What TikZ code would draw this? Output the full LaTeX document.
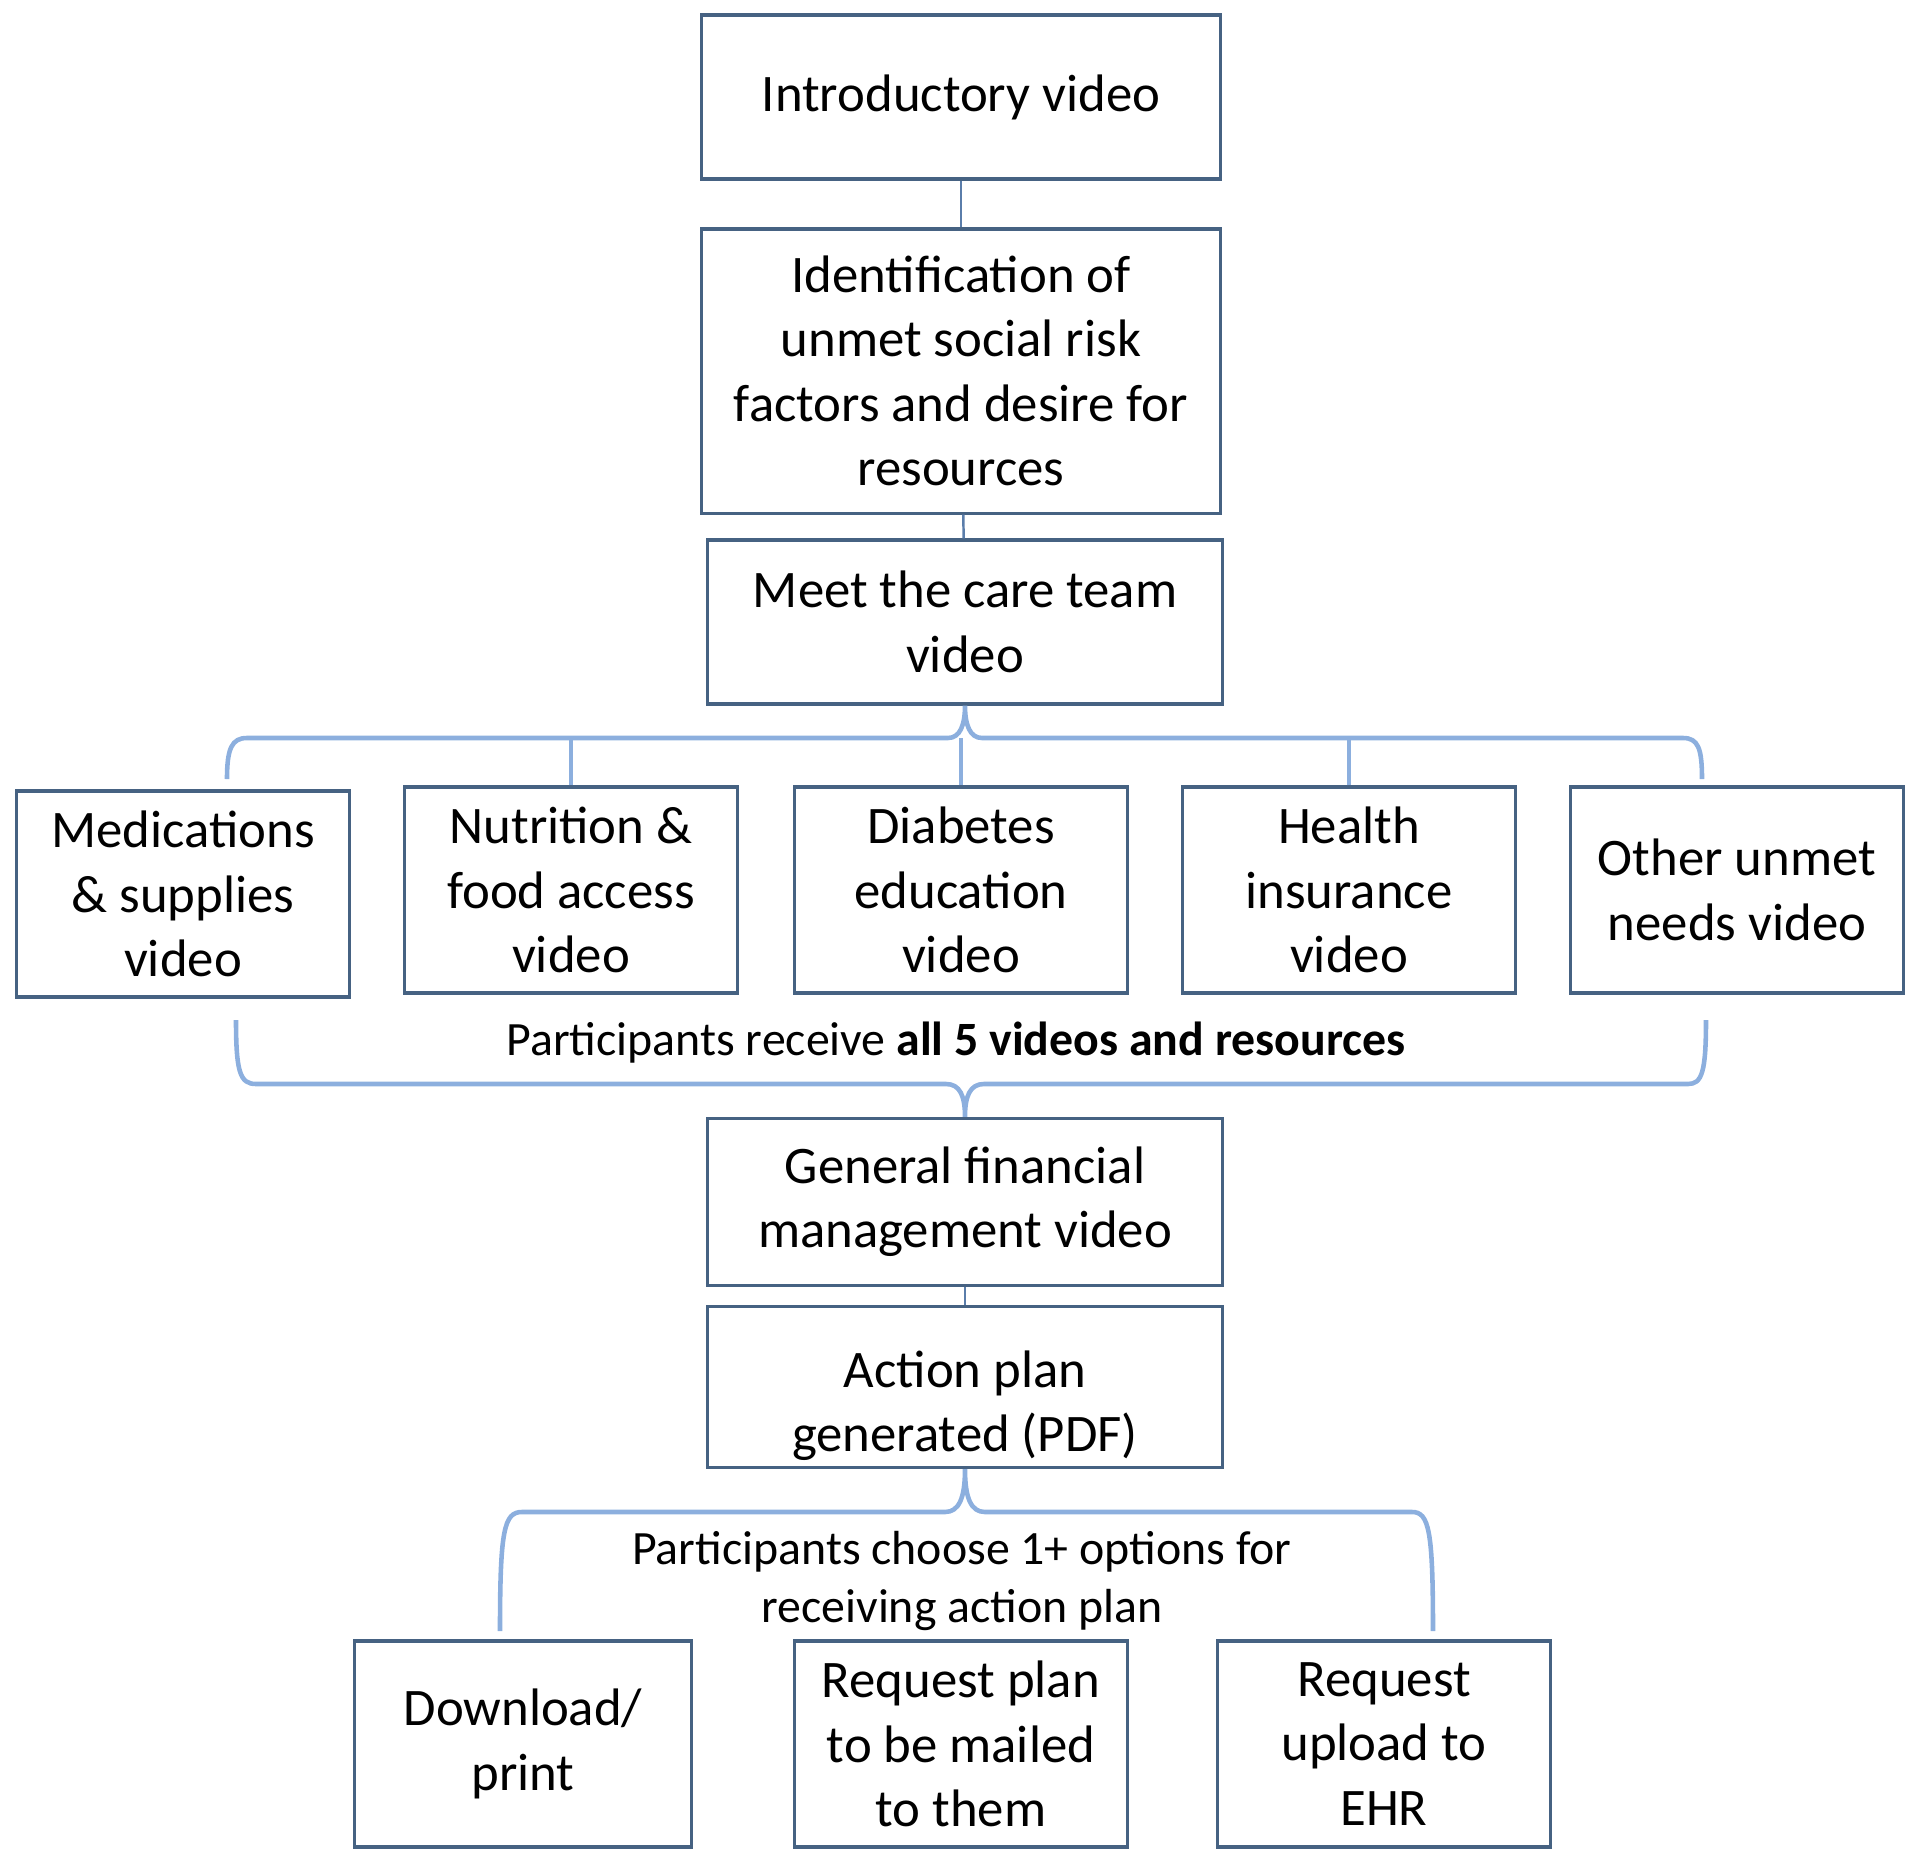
\documentclass[tikz,border=0pt]{standalone}
\usepackage{fontspec}
\setmainfont{Carlito}
\definecolor{boxcol}{RGB}{70,98,130}
\definecolor{linkcol}{RGB}{90,125,170}
\definecolor{bracecol}{RGB}{140,175,222}
\tikzset{
  box/.style={rectangle, draw=boxcol, line width=0.9pt, align=center, inner sep=2pt, font=\fontsize{15}{18.3}\selectfont}, % every box of the chart
  midbox/.style={box, minimum width=3.33cm, minimum height=2.06cm}, % the row of topic videos
  link/.style={draw=linkcol, line width=0.7pt},
  brace/.style={draw=bracecol, line width=1.3pt},
  note/.style={align=center, font=\fontsize{13.6}{16.3}\selectfont}
}

\begin{document}
\begin{tikzpicture}[x=0.01cm, y=-0.01cm]
    \useasboundingbox (0,0) rectangle (1920,1863);

    \node[box, minimum width=5.18cm, minimum height=1.64cm] (intro) at (961,97) {Introductory video};
    \node[box, minimum width=5.18cm, minimum height=2.84cm] (ident) at (961,371) {Identification of\\unmet social risk\\factors and desire for\\resources};
    \node[box, minimum width=5.14cm, minimum height=1.64cm] (meet) at (965,622) {Meet the care team\\video};

    \node[midbox] (meds) at (183,894) {Medications\\\& supplies\\video};
    \node[midbox] (food) at (571,890) {Nutrition \&\\food access\\video};
    \node[midbox] (diabetes) at (961,890) {Diabetes\\education\\video};
    \node[midbox] (insurance) at (1349,890) {Health\\insurance\\video};
    \node[midbox] (other) at (1737,890) {Other unmet\\needs video};

    \node[note] (allfive) at (956,1043) {Participants receive \textbf{all 5 videos and resources}};

    \node[box, minimum width=5.14cm, minimum height=1.67cm] (finance) at (965,1202) {General financial\\management video};
    \node[box, minimum width=5.14cm, minimum height=1.55cm] (plan) at (965,1387) {Action plan\rule{0pt}{21pt}\\generated (PDF)};

    \node[note] (choose) at (962,1581) {Participants choose 1+ options for\\receiving action plan};

    \node[box, minimum width=3.36cm, minimum height=2.06cm] (download) at (523,1744) {Download/\\print};
    \node[box, minimum width=3.32cm, minimum height=2.06cm] (mailed) at (961,1744) {Request plan\\to be mailed\\to them};
    \node[box, minimum width=3.33cm, minimum height=2.06cm] (upload) at (1384,1744) {Request\\upload to\\EHR};

    % brace ends
    \coordinate (topL) at (227,779);
    \coordinate (topR) at (1702,779);
    \coordinate (allL) at (236,1020);
    \coordinate (allR) at (1706,1020);
    \coordinate (optL) at (500,1631);
    \coordinate (optR) at (1433,1631);

    \draw[link] (intro) -- (ident);
    \draw[link] (ident) -- (meet);
    \draw[link] (finance) -- (plan);

    % brace from the care team video to the five topics
    \draw[brace] (topL) .. controls (227,748) and (232,738) .. (247,738) -- (948,738)
      .. controls (960,738) and (965,725) .. (meet.south)
      .. controls (965,725) and (970,738) .. (982,738) -- (1683,738)
      .. controls (1698,738) and (1702,748) .. (topR);
    \draw[brace] (food.north) -- (food.north |- 0,738);
    \draw[brace] (diabetes.north) -- (diabetes.north |- 0,738);
    \draw[brace] (insurance.north) -- (insurance.north |- 0,738);

    % brace gathering the five topics
    \draw[brace] (allL) .. controls (236,1072) and (240,1084) .. (256,1084) -- (946,1084)
      .. controls (960,1084) and (965,1096) .. (finance.north)
      .. controls (965,1096) and (970,1084) .. (984,1084) -- (1688,1084)
      .. controls (1702,1084) and (1706,1072) .. (allR);

    % brace from the action plan to the options
    \draw[brace] (optL) .. controls (500,1530) and (504,1512) .. (522,1512) -- (945,1512)
      .. controls (959,1512) and (965,1498) .. (plan.south)
      .. controls (965,1498) and (971,1512) .. (985,1512) -- (1412,1512)
      .. controls (1429,1512) and (1433,1530) .. (optR);
\end{tikzpicture}
\end{document}
